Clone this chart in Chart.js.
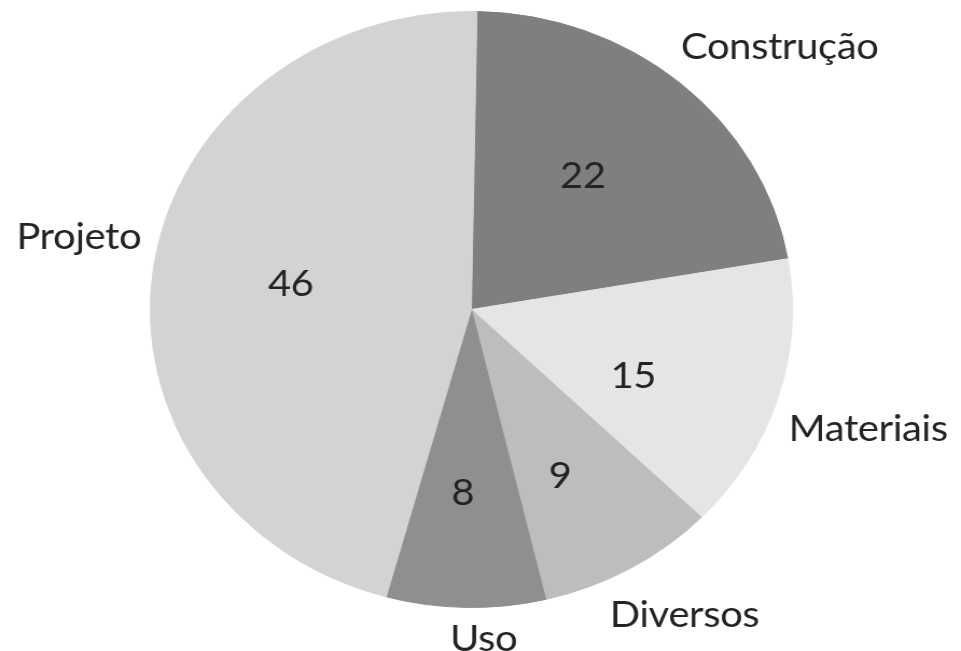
<!DOCTYPE html>
<html>
<head>
<meta charset="utf-8">
<script src="https://cdn.jsdelivr.net/npm/chart.js@4.4.1/dist/chart.umd.min.js"></script>
<style>
html, body { margin: 0; padding: 0; background: #fff; overflow: hidden; }
#grafico { display: block; }
</style>
</head>
<body>
<canvas id="grafico" width="892" height="651" style="width:961px;height:651px"></canvas>
<script>
const categorias = ["Construção", "Materiais", "Diversos", "Uso", "Projeto"];
const valores = [22, 15, 9, 8, 46];
const cores = ["#7f7f81", "#e5e5e7", "#bdbdbf", "#8f8f91", "#d3d3d5"];

// nomes fora da pizza, valores dentro
const rotulos = {
    id: "rotulos",
    afterDatasetsDraw(chart, args, opts) {
        const ctx = chart.ctx;
        const arcs = chart.getDatasetMeta(0).data;
        const grau = Math.PI / 180;
        ctx.save();
        ctx.font = opts.fonte;
        ctx.letterSpacing = "-0.3px";
        ctx.fillStyle = "#232323";
        ctx.textAlign = "center";
        ctx.textBaseline = "alphabetic";
        arcs.forEach((arc, i) => {
            const meio = (arc.startAngle + arc.endAngle) / 2;
            const R = arc.outerRadius;

            const av = meio + opts.giroValor[i] * grau;
            const rv = R * opts.raioValor[i];
            ctx.fillText(String(valores[i]), arc.x + Math.cos(av) * rv, arc.y + Math.sin(av) * rv + opts.capMeia);

            const an = meio + opts.giroNome[i] * grau;
            const cos = Math.cos(an), sin = Math.sin(an);
            const w = ctx.measureText(categorias[i]).width;
            const r = R + 14 + Math.abs(cos) * w / 2 + Math.abs(sin) * 15;
            ctx.fillText(categorias[i], arc.x + cos * r, arc.y + sin * r + opts.capMeia);
        });
        ctx.restore();
    }
};

new Chart(document.getElementById("grafico"), {
    type: "pie",
    data: {
        labels: categorias,
        datasets: [{
            data: valores,
            backgroundColor: cores,
            borderColor: cores,
            borderWidth: 1
        }]
    },
    options: {
        responsive: false,
        animation: false,
        rotation: 1,
        layout: { padding: { left: 139, right: 156, top: 11, bottom: 43 } },
        plugins: {
            legend: { display: false },
            tooltip: { enabled: false },
            rotulos: {
                fonte: "37px Lato",
                capMeia: 13.5,
                giroNome: [6.7, 0.6, -3.5, -3.0, 3.3],
                giroValor: [-3.1, 6.3, 3.1, 1.5, 1.1],
                raioValor: [0.57, 0.55, 0.62, 0.61, 0.57]
            }
        }
    },
    plugins: [rotulos]
});
</script>
</body>
</html>
